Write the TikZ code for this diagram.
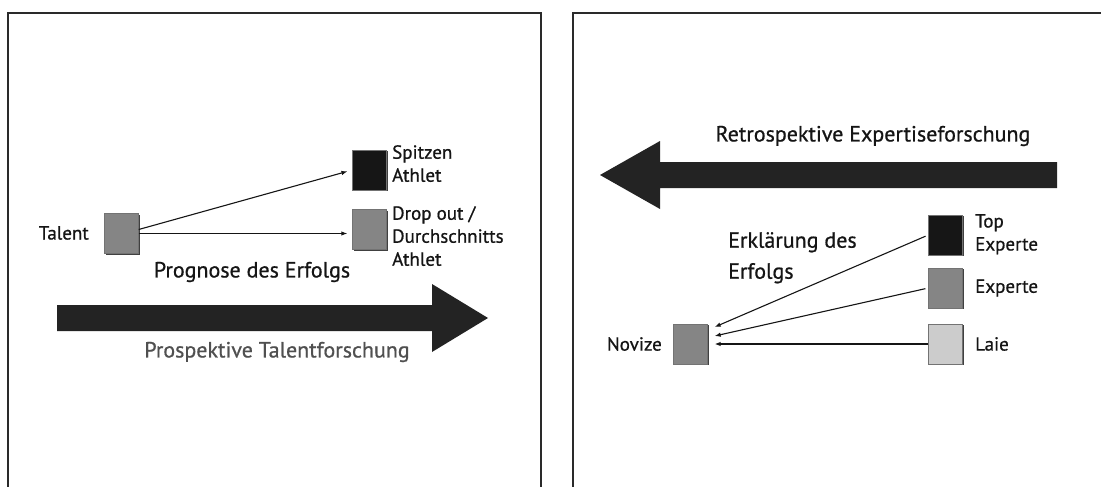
\documentclass[tikz,border=0pt]{standalone}
\usepackage{fontspec}
\setmainfont[FakeBold=0.7]{PT Sans}
\usetikzlibrary{arrows.meta,calc,shadows}

\definecolor{ink}{HTML}{151515}
\definecolor{framecol}{HTML}{2A2A2A}
\definecolor{bigarrow}{HTML}{232323}
\definecolor{sqdark}{HTML}{161616}
\definecolor{sqmid}{HTML}{858585}
\definecolor{sqlight}{HTML}{CCCCCC}
\definecolor{greytext}{HTML}{505050}

\tikzset{
  frame/.style={draw=framecol, line width=1.3pt},
  box/.style={minimum width=34pt, minimum height=40pt, inner sep=0pt,
    draw=black!55, line width=0.4pt,
    drop shadow={shadow xshift=1.3pt, shadow yshift=-1.3pt, fill=black!75, opacity=1}},
  lbl/.style={inner sep=0pt, text=ink, font=\fontsize{19}{23}\selectfont, align=left},
  title/.style={inner sep=0pt, text=ink, font=\fontsize{22}{26}\selectfont},
  link/.style={draw=ink, line width=1.1pt, -{Latex[length=6pt,width=4.5pt]}},
  bigshape/.style={fill=bigarrow}
}

\begin{document}
\begin{tikzpicture}[x=1pt,y=-1pt]
\useasboundingbox (0,0) rectangle (1101,487);
\fill[white] (0,0) rectangle (1101,487);

% panel frames
\draw[frame] (8,487) -- (8,13) -- (541,13) -- (541,487);
\draw[frame] (573,487) -- (573,13) -- (1101,13);

% ---------- prospective talent research ----------
\node[box, fill=sqmid] (tal) at (121.5,233.5) {};
\node[box, fill=sqdark] (sp) at (369.5,170) {};
\node[box, fill=sqmid] (dr) at (369.5,229.5) {};

\node[lbl, anchor=east] (taltext) at (89,233) {Talent};
\node[lbl, anchor=north west] (sptext) at (392,145) {Spitzen\\Athlet};
\node[lbl, anchor=north west] (drtext) at (392,206) {Drop out /\\Durchschnitts\\Athlet};

\draw[link, shorten >=5pt] ($(tal.east)+(0,-4)$) -- (sp.west);
\draw[link, shorten >=5pt] (tal.east) -- (tal.east -| dr.west);

\node[title] (prog) at (252,272) {Prognose des Erfolgs};

\fill[bigshape] (57,305) -- (432,305) -- (432,284) -- (488,318)
  -- (432,352) -- (432,331) -- (57,331) -- cycle;
\node[title, text=greytext] (prosp) at (277,352) {Prospektive Talentforschung};

% ---------- retrospective expertise research ----------
\node[title] (retro) at (873,136) {Retrospektive Expertiseforschung};
\fill[bigshape] (1057,162) -- (660,162) -- (660,141) -- (600,175)
  -- (660,209) -- (660,188) -- (1057,188) -- cycle;

\node[box, fill=sqdark] (top) at (945.5,235) {};
\node[box, fill=sqmid] (exp) at (945.5,288) {};
\node[box, fill=sqlight] (laie) at (945.5,344) {};
\node[box, fill=sqmid] (nov) at (690.5,344) {};

\node[lbl, anchor=north west] (toptext) at (975,214) {Top\\Experte};
\node[lbl, anchor=west] (exptext) at (975,288) {Experte};
\node[lbl, anchor=west] (laietext) at (975,344) {Laie};
\node[lbl, anchor=east] (novtext) at (662,344) {Novize};

\node[title, anchor=north west, align=left, font=\fontsize{22}{31}\selectfont]
  (erk) at (728,232) {Erklärung des\\Erfolgs};

\draw[link, shorten <=3pt] (top.west) -- ($(nov.east)+(7,-17)$);
\draw[link, shorten <=3pt] (exp.west) -- ($(nov.east)+(7,-8)$);
\draw[link, shorten >=7pt] (laie.west) -- (nov.east);
\end{tikzpicture}
\end{document}
